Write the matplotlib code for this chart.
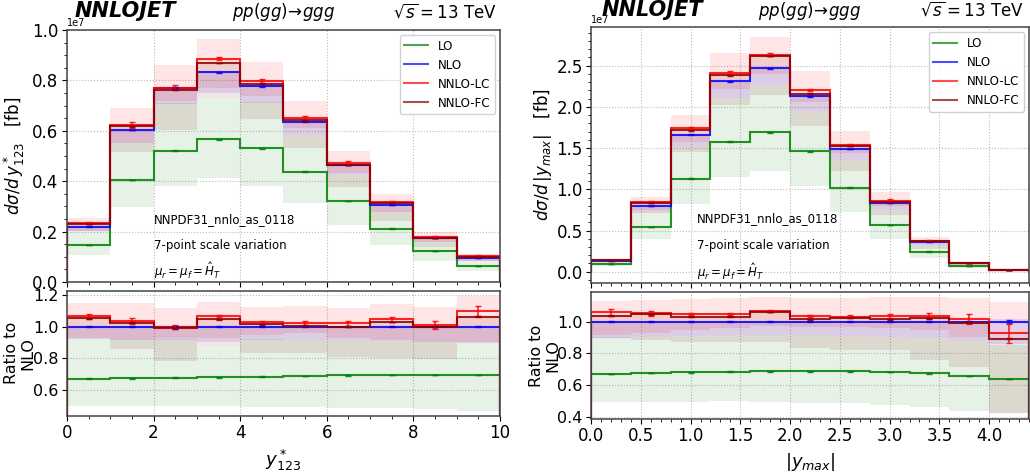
import numpy as np
import matplotlib
matplotlib.use("Agg")
import matplotlib.pyplot as plt
from matplotlib.ticker import MultipleLocator

# ---------------- data (cross sections in units of 1e7 fb, ratios to NLO) ----------------
SCALE = 1e7

edges_L = [0, 1, 2, 3, 4, 5, 6, 7, 8, 9, 10]
nlo_L = [0.220, 0.603, 0.771, 0.832, 0.776, 0.637, 0.464, 0.305, 0.176, 0.094]
lo_ratio_L = [0.670, 0.672, 0.677, 0.680, 0.683, 0.688, 0.692, 0.695, 0.695, 0.693]
lc_ratio_L = [1.065, 1.035, 1.000, 1.065, 1.027, 1.022, 1.020, 1.045, 1.010, 1.100]
fc_ratio_L = [1.052, 1.025, 0.990, 1.045, 1.015, 1.007, 1.000, 1.030, 0.997, 1.063]
lc_err_L = [0.015, 0.018, 0.013, 0.006, 0.010, 0.014, 0.016, 0.014, 0.024, 0.030]
lo_lo_L = [0.495, 0.495, 0.495, 0.495, 0.490, 0.490, 0.488, 0.485, 0.478, 0.465]
lo_hi_L = [0.925, 0.920, 0.920, 0.880, 0.920, 0.915, 0.915, 0.910, 0.910, 0.895]
nlo_lo_L = [0.920, 0.915, 0.915, 0.900, 0.915, 0.915, 0.915, 0.910, 0.905, 0.895]
nlo_hi_L = [1.003, 1.003, 1.003, 1.003, 1.003, 1.003, 1.003, 1.003, 1.003, 1.003]
lc_lo_L = [0.925, 0.920, 0.930, 0.925, 0.950, 0.960, 0.930, 0.915, 0.910, 0.900]
lc_hi_L = [1.152, 1.147, 1.116, 1.158, 1.126, 1.130, 1.120, 1.143, 1.126, 1.196]
fc_lo_L = [0.925, 0.857, 0.785, 0.878, 0.836, 0.836, 0.810, 0.800, 0.794, 0.895]

edges_R = [0.0, 0.4, 0.8, 1.2, 1.6, 2.0, 2.4, 2.8, 3.2, 3.6, 4.0, 4.4]
nlo_R = [0.134, 0.800, 1.663, 2.310, 2.468, 2.128, 1.489, 0.834, 0.364, 0.106, 0.024]
lo_ratio_R = [0.670, 0.676, 0.680, 0.684, 0.686, 0.686, 0.686, 0.682, 0.674, 0.657, 0.638]
lc_ratio_R = [1.059, 1.053, 1.048, 1.046, 1.067, 1.036, 1.032, 1.036, 1.038, 1.017, 0.926]
fc_ratio_R = [1.038, 1.046, 1.032, 1.032, 1.061, 1.015, 1.025, 1.015, 1.021, 0.994, 0.893]
lc_err_R = [0.023, 0.015, 0.006, 0.006, 0.006, 0.006, 0.010, 0.015, 0.020, 0.030, 0.060]
lo_lo_R = [0.495, 0.495, 0.495, 0.498, 0.495, 0.488, 0.484, 0.474, 0.459, 0.438, 0.420]
lo_hi_R = [0.905, 0.905, 0.910, 0.915, 0.918, 0.915, 0.910, 0.905, 0.900, 0.880, 0.855]
nlo_lo_R = [0.900, 0.905, 0.910, 0.915, 0.918, 0.915, 0.910, 0.905, 0.900, 0.880, 0.860]
nlo_hi_R = [1.003, 1.003, 1.003, 1.003, 1.003, 1.003, 1.003, 1.003, 1.003, 1.003, 1.020]
lc_lo_R = [0.916, 0.930, 0.947, 0.962, 0.973, 0.968, 0.964, 0.958, 0.948, 0.905, 0.884]
lc_hi_R = [1.133, 1.137, 1.141, 1.147, 1.154, 1.147, 1.147, 1.158, 1.158, 1.147, 1.122]
fc_lo_R = [0.900, 0.884, 0.874, 0.874, 0.870, 0.832, 0.821, 0.821, 0.758, 0.712, 0.420]
nlo_err_R = [0.002, 0.002, 0.002, 0.002, 0.002, 0.002, 0.002, 0.002, 0.002, 0.002, 0.010]

series_names = ["LO", "NLO", "NNLO-LC", "NNLO-FC"]
series_colors = ["green", "blue", "red", "darkred"]

plt.rcParams["font.family"] = ["DejaVu Sans"]
plt.rcParams["mathtext.fontset"] = "dejavusans"

fig = plt.figure(figsize=(10.30, 4.74), dpi=100)

panels = [
    dict(edges=edges_L, nlo=nlo_L, lo_r=lo_ratio_L, lc_r=lc_ratio_L, fc_r=fc_ratio_L,
         lc_e=lc_err_L, lo_lo=lo_lo_L, lo_hi=lo_hi_L, nlo_lo=nlo_lo_L, nlo_hi=nlo_hi_L,
         lc_lo=lc_lo_L, lc_hi=lc_hi_L, fc_lo=fc_lo_L, nlo_e=[0.002] * 10,
         top=[0.065, 0.405, 0.4204, 0.5316], bot=[0.065, 0.1224, 0.4204, 0.2643],
         ylim=(0, 1.0e7), rylim=(0.435, 1.227), xmaj=2, xmin=0.5, ymaj=0.2e7, ymin=0.05e7,
         ylabel=r"$d\sigma/d\,y^*_{123}$   [fb]", xlabel=r"$y^*_{123}$",
         rticks=[0.6, 0.8, 1.0, 1.2], tx=0.2, rhead=0.993, lhead=0.018, hy=1.05,
         ylx=-0.092, rylx=-0.074),
    dict(edges=edges_R, nlo=nlo_R, lo_r=lo_ratio_R, lc_r=lc_ratio_R, fc_r=fc_ratio_R,
         lc_e=lc_err_R, lo_lo=lo_lo_R, lo_hi=lo_hi_R, nlo_lo=nlo_lo_R, nlo_hi=nlo_hi_R,
         lc_lo=lc_lo_R, lc_hi=lc_hi_R, fc_lo=fc_lo_R, nlo_e=nlo_err_R,
         top=[0.5738, 0.4036, 0.4252, 0.5388], bot=[0.5738, 0.1167, 0.4252, 0.2667],
         ylim=(-0.133e7, 2.966e7), rylim=(0.387, 1.186), xmaj=0.5, xmin=0.1, ymaj=0.5e7, ymin=0.1e7,
         ylabel=r"$d\sigma/d\,|y_{max}|$   [fb]", xlabel=r"$|y_{max}|$",
         rticks=[0.4, 0.6, 0.8, 1.0], tx=0.241, rhead=0.989, lhead=0.023, hy=1.045,
         ylx=-0.084, rylx=-0.071),
]

for p in panels:
    edges = np.array(p["edges"], dtype=float)
    centers = 0.5 * (edges[:-1] + edges[1:])
    nlo = np.array(p["nlo"]) * SCALE
    ratios = [np.array(p["lo_r"]), np.ones(len(nlo)), np.array(p["lc_r"]), np.array(p["fc_r"])]
    bands = [(p["lo_lo"], p["lo_hi"]), (p["nlo_lo"], p["nlo_hi"]),
             (p["lc_lo"], p["lc_hi"]), (p["fc_lo"], p["fc_r"])]
    errs = [0.002 * np.ones(len(nlo)), np.array(p["nlo_e"]), np.array(p["lc_e"]),
            0.002 * np.ones(len(nlo))]

    axt = fig.add_axes(p["top"])
    axb = fig.add_axes(p["bot"], sharex=axt)

    for ax, mult in ((axt, nlo), (axb, np.ones(len(nlo)))):
        for (lo, hi), col in zip(bands, series_colors):
            ax.stairs(np.array(hi) * mult, edges, baseline=np.array(lo) * mult,
                      fill=True, color=col, alpha=0.1, lw=0)
        for r, e, col, name in zip(ratios, errs, series_colors, series_names):
            ax.stairs(r * mult, edges, color=col, lw=1.5, alpha=0.85, label=name)
            ax.errorbar(centers, r * mult, yerr=e * mult, fmt="none", ecolor=col,
                        elinewidth=1.2, capsize=2.5, alpha=0.85)
        ax.grid(True, color="#bbbbbb", ls=":", lw=0.8)
        ax.set_axisbelow(True)
        for s in ax.spines.values():
            s.set_color("#444444")
            s.set_linewidth(1.1)
        ax.tick_params(labelsize=12, direction="out", pad=2.5)
        ax.xaxis.set_major_locator(MultipleLocator(p["xmaj"]))
        ax.xaxis.set_minor_locator(MultipleLocator(p["xmin"]))

    axt.set_xlim(edges[0], edges[-1])
    axt.set_ylim(*p["ylim"])
    axt.yaxis.set_major_locator(MultipleLocator(p["ymaj"]))
    axt.yaxis.set_minor_locator(MultipleLocator(p["ymin"]))
    axt.yaxis.get_offset_text().set_fontsize(7)
    plt.setp(axt.get_xticklabels(), visible=False)
    axb.set_ylim(*p["rylim"])
    axb.set_yticks(p["rticks"])
    axb.tick_params(axis="y", labelsize=11.5)

    axt.set_ylabel(p["ylabel"], fontsize=12)
    axt.yaxis.set_label_coords(p["ylx"], 0.5)
    axb.set_ylabel("Ratio to\nNLO", fontsize=11.5, linespacing=1.05)
    axb.yaxis.set_label_coords(p["rylx"], 0.5)
    axb.set_xlabel(p["xlabel"], fontsize=13, labelpad=4)

    leg = axt.legend(loc="upper right", fontsize=8.6, framealpha=0.9,
                     borderaxespad=0.4, handlelength=2.0)
    for h in leg.get_lines():
        h.set_alpha(0.7)
        h.set_linewidth(1.5)

    axt.text(p["tx"], 0.25, "NNPDF31_nnlo_as_0118", transform=axt.transAxes,
             fontsize=8.5, va="center")
    axt.text(p["tx"], 0.145, "7-point scale variation", transform=axt.transAxes,
             fontsize=8.5, va="center")
    axt.text(p["tx"], 0.045, r"$\mu_r = \mu_f = \hat{H}_T$", transform=axt.transAxes,
             fontsize=8.5, va="center")

    axt.text(p["lhead"], p["hy"], "NNLOJET", transform=axt.transAxes, fontsize=15,
             fontweight="bold", fontstyle="italic", ha="left", va="baseline")
    axt.text(0.5, p["hy"], r"$pp(gg)\!\rightarrow\! ggg$", transform=axt.transAxes,
             fontsize=12, ha="center", va="baseline")
    axt.text(p["rhead"], p["hy"], r"$\sqrt{s} = 13$ TeV", transform=axt.transAxes,
             fontsize=12, ha="right", va="baseline")

fig.savefig("out.png", dpi=100)
